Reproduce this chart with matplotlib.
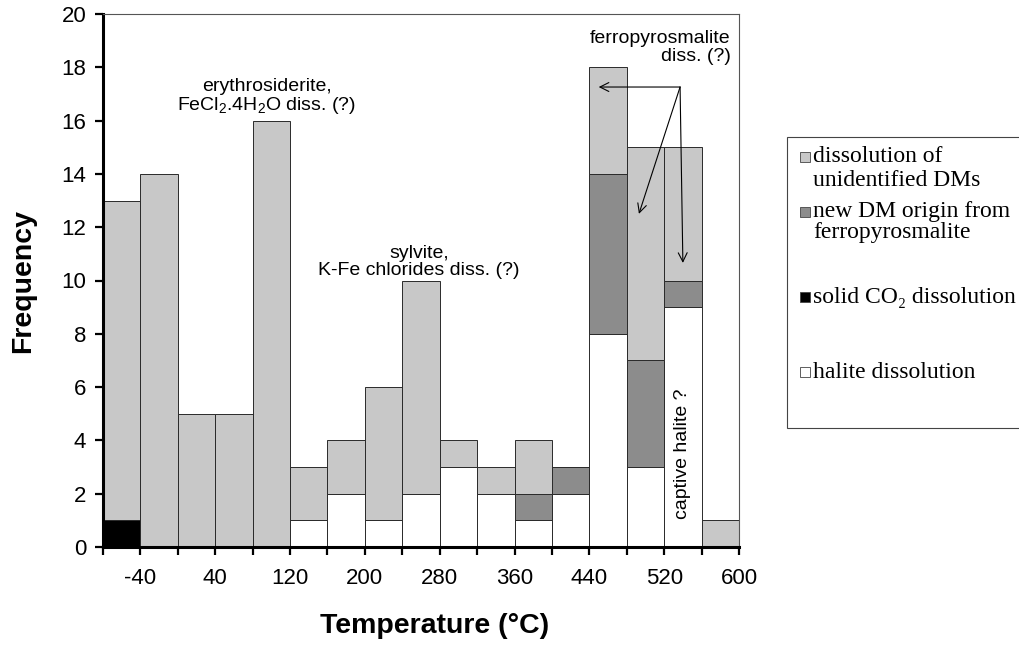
import numpy as np
import matplotlib
matplotlib.use('Agg')
import matplotlib.pyplot as plt
from matplotlib.patches import Rectangle

# Histogram bins (left edge of each 40 degC class)
bin_left = [-80, -40, 0, 40, 80, 120, 160, 200, 240, 280, 320, 360, 400, 440, 480, 520, 560]
bin_width = 40

# Counts per category, stacked bottom to top
co2 = [1, 0, 0, 0, 0, 0, 0, 0, 0, 0, 0, 0, 0, 0, 0, 0, 0]
halite = [0, 0, 0, 0, 0, 1, 2, 1, 2, 3, 2, 1, 2, 8, 3, 9, 0]
new_dm = [0, 0, 0, 0, 0, 0, 0, 0, 0, 0, 0, 1, 1, 6, 4, 1, 0]
unident = [12, 14, 5, 5, 16, 2, 2, 5, 8, 1, 1, 2, 0, 4, 8, 5, 1]

tick_pos = [-80, -40, 0, 40, 80, 120, 160, 200, 240, 280, 320, 360, 400, 440, 480, 520, 560, 600]
tick_lab = ['', '-40', '', '40', '', '120', '', '200', '', '280', '', '360', '', '440', '', '520', '', '600']

legend_lines = [['dissolution of', 'unidentified DMs'],
                ['new DM origin from', 'ferropyrosmalite'],
                ['solid CO\u2082 dissolution'],
                ['halite dissolution']]
legend_colors = ['#c8c8c8', '#8c8c8c', 'black', 'white']

plt.rcParams['font.family'] = ['Liberation Sans', 'DejaVu Sans']
plt.rcParams['mathtext.fontset'] = 'custom'
plt.rcParams['mathtext.rm'] = 'Liberation Sans'

W, H = 1019, 646
fig = plt.figure(figsize=(W / 100, H / 100), dpi=100)
ax = fig.add_axes([103 / W, 1 - 547 / H, 636 / W, 533 / H])

x = np.array(bin_left)
b0 = np.zeros(len(x))
edge = dict(edgecolor='#2a2a2a', linewidth=0.7, align='edge', width=bin_width)

ax.bar(x, co2, bottom=b0, color=legend_colors[2], **edge)
b1 = b0 + np.array(co2)
ax.bar(x, halite, bottom=b1, color=legend_colors[3], **edge)
b2 = b1 + np.array(halite)
ax.bar(x, new_dm, bottom=b2, color=legend_colors[1], **edge)
b3 = b2 + np.array(new_dm)
ax.bar(x, unident, bottom=b3, color=legend_colors[0], **edge)

ax.set_xlim(-80, 600)
ax.set_ylim(0, 20)
ax.set_xticks(tick_pos)
ax.set_xticklabels(tick_lab)
ax.set_yticks(range(0, 21, 2))
ax.tick_params(axis='both', direction='out', length=6, width=1.6, labelsize=16, pad=6)
ax.tick_params(axis='x', pad=9)

for side in ['left', 'bottom']:
    ax.spines[side].set_linewidth(2.2)
for side in ['top', 'right']:
    ax.spines[side].set_linewidth(0.8)
    ax.spines[side].set_color('#555555')

fig.text(23 / W, 1 - 281 / H, 'Frequency', rotation=90, fontsize=20.5,
         fontweight='bold', ha='center', va='center')
fig.text(435 / W, 1 - 626 / H, 'Temperature (°C)', fontsize=20.5,
         fontweight='bold', ha='center', va='center')

# annotations
ax.text(95, 16.89, 'erythrosiderite,\nFeCl$_2$.4H$_2$O diss. (?)', fontsize=14,
        ha='center', va='center', linespacing=1.05)
ax.text(258, 10.69, 'sylvite,\nK-Fe chlorides diss. (?)', fontsize=14,
        ha='center', va='center', linespacing=1.05)
ax.text(591, 18.74, 'ferropyrosmalite\ndiss. (?)', fontsize=14,
        ha='right', va='center', multialignment='right', linespacing=1.1)
ax.text(540, 3.5, 'captive halite ?', fontsize=14, rotation=90,
        ha='center', va='center')

start = (537, 17.26)
for target in [(450, 17.26), (493, 12.5), (540, 10.66)]:
    ax.annotate('', xy=target, xytext=start,
                arrowprops=dict(arrowstyle='->', color='black', lw=0.8,
                                shrinkA=0, shrinkB=0, mutation_scale=16))

# legend box drawn by hand (runs off the right edge like the original)
fig.add_artist(Rectangle((787 / W, 1 - 428 / H), 260 / W, 291 / H,
                         transform=fig.transFigure, facecolor='white',
                         edgecolor='#444444', linewidth=0.8))
entry_y = [[157, 180], [212, 233], [297], [372]]
for lines, ys, col in zip(legend_lines, entry_y, legend_colors):
    fig.add_artist(Rectangle((800 / W, 1 - (ys[0] + 5) / H), 10 / W, 10 / H,
                             transform=fig.transFigure, facecolor=col,
                             edgecolor='#444444', linewidth=0.6))
    for txt, yy in zip(lines, ys):
        fig.text(813 / W, 1 - yy / H, txt, fontsize=17, ha='left', va='center',
                 family=['Liberation Serif', 'DejaVu Serif'])

fig.savefig('out.png', dpi=100)
